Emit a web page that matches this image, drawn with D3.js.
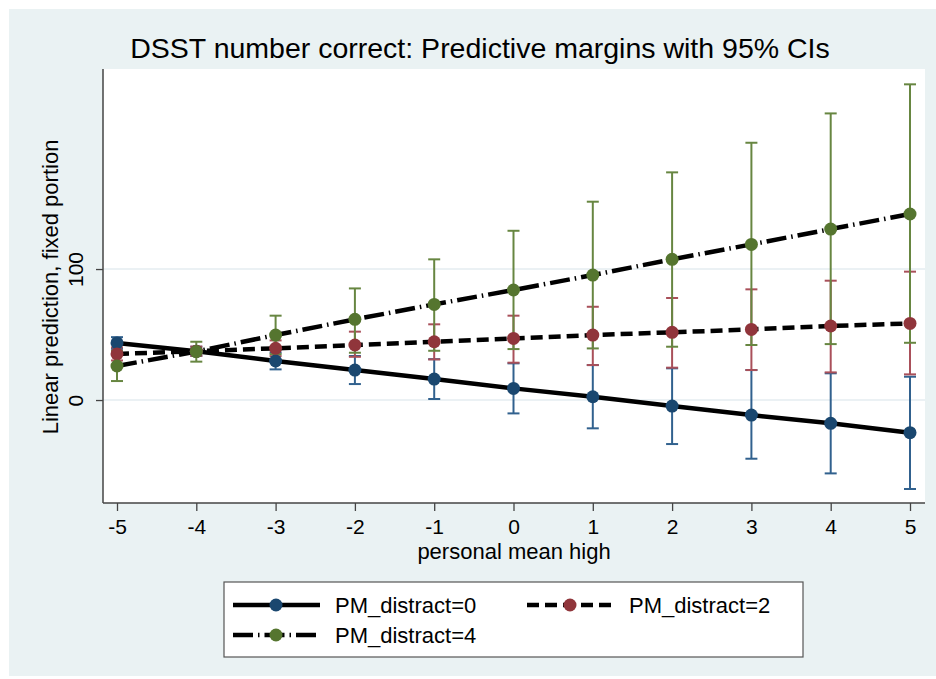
<!DOCTYPE html>
<html lang="en">
	<head>
		<meta charset="utf-8">
		<title>DSST number correct: Predictive margins with 95% CIs</title>
		<script type="text/javascript" src="https://cdn.jsdelivr.net/npm/d3@7"></script>
		<style type="text/css">
			body{
				margin:0;
				background:#ffffff;
			}
			svg text{
				font-family:"Liberation Sans", Arial, Helvetica, sans-serif;
				fill:#000000;
			}
		</style>
	</head>
	<body>
		<div id="chart"></div>

		<script type="text/javascript">

			// x values (personal mean high)
			var xValues = [-5, -4, -3, -2, -1, 0, 1, 2, 3, 4, 5]
			var xTicks = [-5, -4, -3, -2, -1, 0, 1, 2, 3, 4, 5]
			var yTicks = [0, 100]

			var seriesNames = ["PM_distract=0", "PM_distract=2", "PM_distract=4"]

			// margins
			var est0 = [43.6, 37.2, 29.8, 22.9, 16.0, 8.9, 2.5, -4.6, -11.5, -17.8, -24.9]
			var lo0 = [39.1, 33.7, 23.4, 12.2, 0.8, -10.2, -21.6, -33.6, -44.8, -56.0, -67.9]
			var hi0 = [48.0, 40.7, 36.2, 33.6, 31.2, 28.0, 26.7, 24.2, 22.9, 20.4, 17.8]

			var est2 = [35.2, 37.3, 39.5, 42.0, 44.5, 47.0, 49.6, 51.7, 53.9, 56.5, 58.5]
			var lo2 = [30.2, 33.8, 33.5, 33.0, 31.0, 28.5, 26.7, 24.7, 22.9, 21.1, 19.6]
			var hi2 = [40.2, 40.8, 45.5, 52.2, 57.8, 64.4, 71.2, 77.9, 84.5, 91.1, 98.0]

			var est4 = [26.0, 37.0, 49.6, 61.6, 73.0, 84.0, 95.4, 107.4, 118.8, 130.5, 142.0]
			var lo4 = [14.5, 29.3, 35.0, 36.1, 37.6, 38.9, 39.4, 40.7, 42.0, 42.7, 43.7]
			var hi4 = [37.5, 44.5, 64.4, 85.2, 107.4, 129.2, 151.4, 173.8, 196.4, 218.8, 241.0]

			var w = 936;
			var h = 679;

			var markerColors = ["#1a476f", "#90353b", "#55752f"]
			var ciColors = ["#31618e", "#a9505a", "#678641"]
			var dashes = ["none", "12,6", "20,5,1.5,5"]

			var series = [
				{name: seriesNames[0], est: est0, lo: lo0, hi: hi0},
				{name: seriesNames[1], est: est2, lo: lo2, hi: hi2},
				{name: seriesNames[2], est: est4, lo: lo4, hi: hi4}
			]

			var plotLeft = 103, plotRight = 925, plotTop = 69, plotBottom = 503;

			var xScale = d3.scaleLinear()
				.domain([-5, 5])
				.range([117, 910]);

			var yScale = d3.scaleLinear()
				.domain([-78.6, 252.7])
				.range([plotBottom, plotTop]);

			var svg = d3.select("#chart")
				.append("svg")
				.attr("width", w)
				.attr("height", h);

			// graph region
			svg.append("rect")
				.attr("x", 9)
				.attr("y", 9)
				.attr("width", w - 9)
				.attr("height", h - 12)
				.attr("fill", "#eaf2f3");

			// plot region
			svg.append("rect")
				.attr("x", plotLeft)
				.attr("y", plotTop)
				.attr("width", plotRight - plotLeft)
				.attr("height", plotBottom - plotTop)
				.attr("fill", "#ffffff");

			// grid lines
			svg.selectAll(".grid")
				.data(yTicks)
				.enter()
				.append("line")
				.attr("class", "grid")
				.attr("x1", plotLeft)
				.attr("x2", plotRight)
				.attr("y1", function(d){ return yScale(d) })
				.attr("y2", function(d){ return yScale(d) })
				.attr("stroke", "#e4edf0")
				.attr("stroke-width", 1.5);

			svg.append("text")
				.text("DSST number correct: Predictive margins with 95% CIs")
				.attr("x", 480)
				.attr("y", 58)
				.attr("text-anchor", "middle")
				.attr("font-size", "28.5px");

			// axes
			var xAxis = d3.axisBottom(xScale)
				.tickValues(xTicks)
				.tickSize(8)
				.tickPadding(8)
				.tickFormat(d3.format("d"));

			var gx = svg.append("g")
				.attr("transform", "translate(0," + plotBottom + ")")
				.call(xAxis);
			gx.select(".domain").remove();
			gx.selectAll("line").attr("stroke", "#444444").attr("stroke-width", 1.3);
			gx.selectAll("text")
				.attr("font-size", "21px")
				.attr("fill", "#000000")
				.text(function(d){ return d < 0 ? "-" + Math.abs(d) : d });

			var yAxis = d3.axisLeft(yScale)
				.tickValues(yTicks)
				.tickSize(7)
				.tickFormat(d3.format("d"));

			var gy = svg.append("g")
				.attr("transform", "translate(" + plotLeft + ",0)")
				.call(yAxis);
			gy.select(".domain").remove();
			gy.selectAll("line").attr("stroke", "#444444").attr("stroke-width", 1.3);
			gy.selectAll("text")
				.attr("font-size", "21px")
				.attr("fill", "#000000")
				.attr("x", null)
				.attr("dy", null)
				.attr("text-anchor", "middle")
				.attr("transform", "translate(-20,0) rotate(-90)");

			svg.append("line")
				.attr("x1", plotLeft).attr("x2", plotLeft)
				.attr("y1", plotTop).attr("y2", plotBottom)
				.attr("stroke", "#444444")
				.attr("stroke-width", 1.5);

			svg.append("line")
				.attr("x1", plotLeft).attr("x2", plotRight)
				.attr("y1", plotBottom).attr("y2", plotBottom)
				.attr("stroke", "#444444")
				.attr("stroke-width", 1.5);

			svg.append("text")
				.text("personal mean high")
				.attr("x", (plotLeft + plotRight) / 2)
				.attr("y", 559)
				.attr("text-anchor", "middle")
				.attr("font-size", "22px");

			svg.append("text")
				.text("Linear prediction, fixed portion")
				.attr("transform", "translate(58,287) rotate(-90)")
				.attr("text-anchor", "middle")
				.attr("font-size", "22px");

			// confidence intervals
			for(var s = 0; s < series.length; s++){
				var ser = series[s]
				var ci = svg.append("g").attr("stroke", ciColors[s]).attr("stroke-width", 2);

				ci.selectAll(".bar")
					.data(xValues)
					.enter()
					.append("line")
					.attr("x1", function(d){ return xScale(d) })
					.attr("x2", function(d){ return xScale(d) })
					.attr("y1", function(d,i){ return yScale(ser.lo[i]) })
					.attr("y2", function(d,i){ return yScale(ser.hi[i]) });

				ci.selectAll(".capLo")
					.data(xValues)
					.enter()
					.append("line")
					.attr("x1", function(d){ return xScale(d) - 6 })
					.attr("x2", function(d){ return xScale(d) + 6 })
					.attr("y1", function(d,i){ return yScale(ser.lo[i]) })
					.attr("y2", function(d,i){ return yScale(ser.lo[i]) });

				ci.selectAll(".capHi")
					.data(xValues)
					.enter()
					.append("line")
					.attr("x1", function(d){ return xScale(d) - 6 })
					.attr("x2", function(d){ return xScale(d) + 6 })
					.attr("y1", function(d,i){ return yScale(ser.hi[i]) })
					.attr("y2", function(d,i){ return yScale(ser.hi[i]) });
			}

			// connected lines
			for(var s = 0; s < series.length; s++){
				var ser = series[s]
				var line = d3.line()
					.x(function(d,i){ return xScale(xValues[i]) })
					.y(function(d){ return yScale(d) });

				svg.append("path")
					.attr("d", line(ser.est))
					.attr("fill", "none")
					.attr("stroke", "#000000")
					.attr("stroke-width", 4.5)
					.attr("stroke-dasharray", dashes[s]);
			}

			// markers
			for(var s = 0; s < series.length; s++){
				var ser = series[s]
				svg.selectAll(".m" + s)
					.data(ser.est)
					.enter()
					.append("circle")
					.attr("cx", function(d,i){ return xScale(xValues[i]) })
					.attr("cy", function(d){ return yScale(d) })
					.attr("r", 6.5)
					.attr("fill", markerColors[s]);
			}

			// legend
			var legend = svg.append("g");
			legend.append("rect")
				.attr("x", 224)
				.attr("y", 582)
				.attr("width", 579)
				.attr("height", 75)
				.attr("fill", "#ffffff")
				.attr("stroke", "#555555")
				.attr("stroke-width", 1.2);

			var legendPos = [
				{x: 233, y: 605},
				{x: 527, y: 605},
				{x: 233, y: 635}
			]

			for(var s = 0; s < series.length; s++){
				var p = legendPos[s]
				legend.append("line")
					.attr("x1", p.x)
					.attr("x2", p.x + 87)
					.attr("y1", p.y)
					.attr("y2", p.y)
					.attr("stroke", "#000000")
					.attr("stroke-width", 4.5)
					.attr("stroke-dasharray", dashes[s]);
				legend.append("circle")
					.attr("cx", p.x + 43)
					.attr("cy", p.y)
					.attr("r", 6.5)
					.attr("fill", markerColors[s]);
				legend.append("text")
					.text(series[s].name)
					.attr("x", p.x + 102)
					.attr("y", p.y + 8)
					.attr("font-size", "22px");
			}

		</script>
	</body>
</html>
